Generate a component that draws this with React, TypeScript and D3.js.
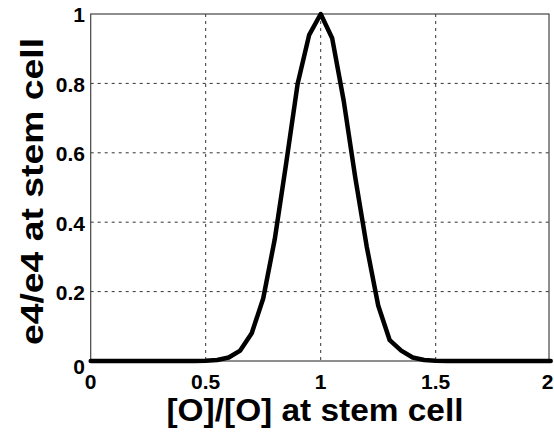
import React from "react";
import * as d3 from "d3";

const xValues = [0, 0.05, 0.1, 0.15, 0.2, 0.25, 0.3, 0.35, 0.4, 0.45, 0.5, 0.55, 0.6, 0.65, 0.7, 0.75, 0.8, 0.85, 0.9, 0.95, 1.0, 1.05, 1.1, 1.15, 1.2, 1.25, 1.3, 1.35, 1.4, 1.45, 1.5, 1.55, 1.6, 1.65, 1.7, 1.75, 1.8, 1.85, 1.9, 1.95, 2.0];
const yValues = [0, 0, 0, 0, 0, 0, 0, 0, 0, 0, 0.001, 0.003, 0.01, 0.03, 0.08, 0.18, 0.35, 0.57, 0.8, 0.94, 1.0, 0.93, 0.75, 0.53, 0.33, 0.16, 0.06, 0.03, 0.01, 0.003, 0.001, 0, 0, 0, 0, 0, 0, 0, 0, 0, 0];
const xTicks = [0, 0.5, 1, 1.5, 2];
const yTicks = [0, 0.2, 0.4, 0.6, 0.8, 1];
const xTickLabels = ["0", "0.5", "1", "1.5", "2"];
const yTickLabels = ["0", "0.2", "0.4", "0.6", "0.8", "1"];
const xLabel = "[O]/[O] at stem cell";
const yLabel = "e4/e4 at stem cell";

export default function App() {
  const W = 554, H = 434;
  const left = 90.7, right = 550.7, top = 14, bottom = 361;
  const x = d3.scaleLinear().domain([0, 2]).range([left, right]);
  const y = d3.scaleLinear().domain([0, 1]).range([bottom, top]);
  const pts: [number, number][] = xValues.map((v, i) => [v, yValues[i]]);
  const line = d3.line<[number, number]>().x(d => x(d[0])).y(d => y(d[1]));
  const font = "'Liberation Sans', Arial, Helvetica, sans-serif";
  const boxRight = 549;
  return (
    <svg width={W} height={H} style={{ position: "fixed", left: 0, top: 0, background: "#fff" }} fontFamily={font}>
      <rect x={0} y={0} width={W} height={H} fill="#fff" />
      {xTicks.slice(1, -1).map(t => (
        <line key={"gx" + t} x1={x(t)} x2={x(t)} y1={top} y2={bottom} stroke="#333" strokeWidth={1} strokeDasharray="3,4" />
      ))}
      {yTicks.slice(1, -1).map(t => (
        <line key={"gy" + t} x1={left} x2={boxRight} y1={y(t)} y2={y(t)} stroke="#333" strokeWidth={1} strokeDasharray="3,4" />
      ))}
      <rect x={left} y={top} width={boxRight - left} height={bottom - top} fill="none" stroke="#444" strokeWidth={1.2} />
      <path d={line(pts) || ""} fill="none" stroke="#000" strokeWidth={4.5} strokeLinejoin="round" strokeLinecap="round" />
      {xTicks.map((t, i) => {
        const last = i === xTicks.length - 1;
        return (
          <text key={"tx" + t} x={last ? 553.5 : x(t)} y={389} textAnchor={last ? "end" : "middle"} fontSize={21} fontWeight="bold" fill="#000">{xTickLabels[i]}</text>
        );
      })}
      {yTicks.map((t, i) => (
        <text key={"ty" + t} x={85} y={y(t) + (t === 0 ? 6 : 1)} dy="0.35em" textAnchor="end" fontSize={21} fontWeight="bold" fill="#000">{yTickLabels[i]}</text>
      ))}
      <text x={315} y={421} textAnchor="middle" fontSize={32} fontWeight="bold" fill="#000" textLength={297} lengthAdjust="spacingAndGlyphs">{xLabel}</text>
      <text transform={`translate(43,191.5) rotate(-90)`} textAnchor="middle" fontSize={32} fontWeight="bold" fill="#000" textLength={307} lengthAdjust="spacingAndGlyphs">{yLabel}</text>
    </svg>
  );
}
